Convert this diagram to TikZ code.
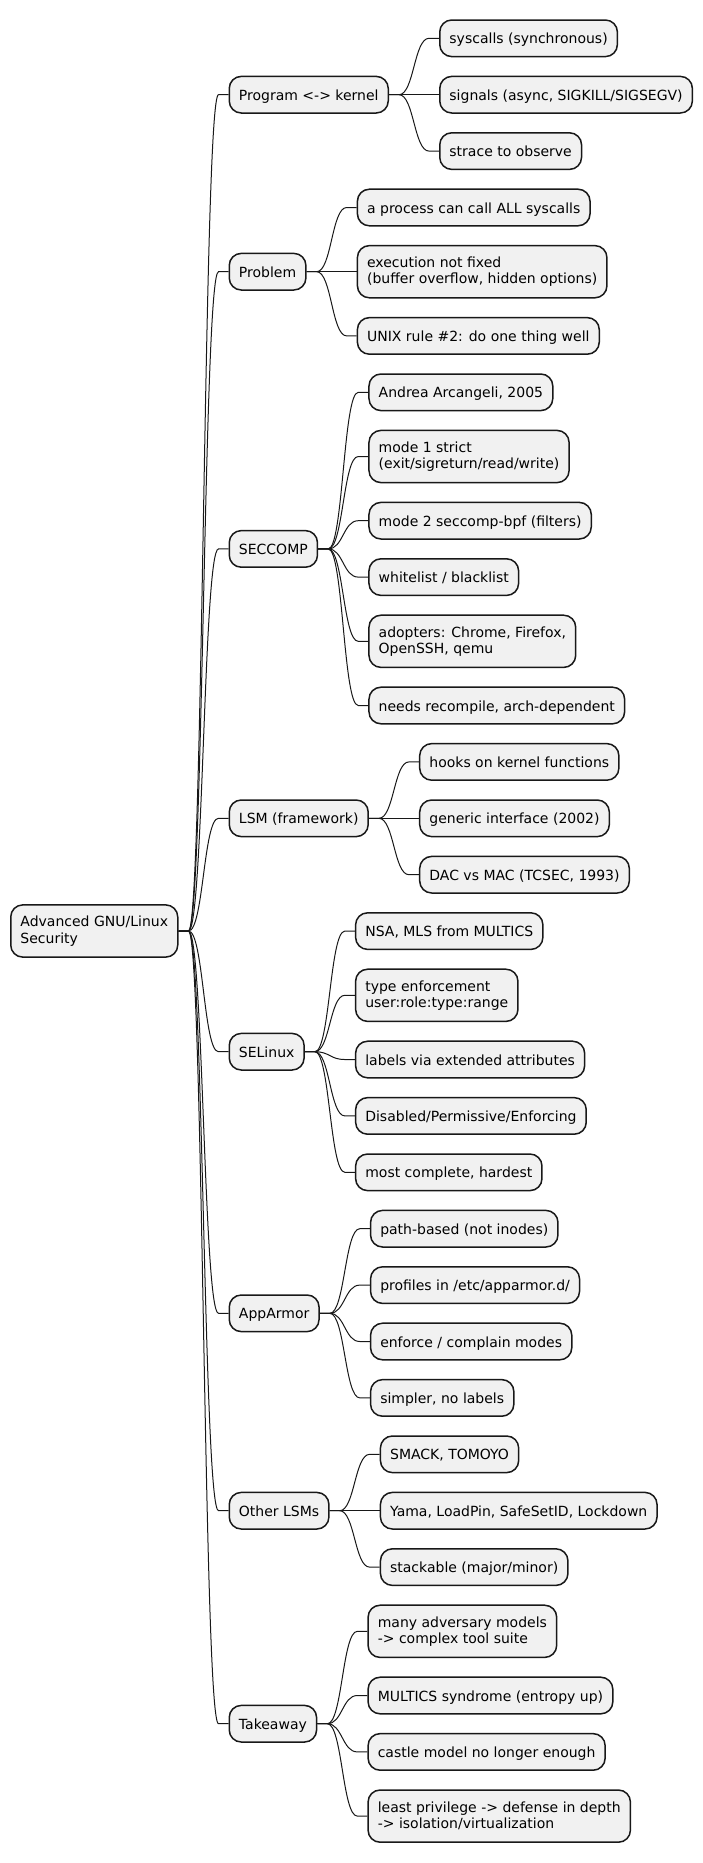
\documentclass[tikz,border=0pt]{standalone}
\usepackage{fontspec}
\setmainfont{DejaVu Sans}
\definecolor{boxfill}{HTML}{F1F1F1}
\definecolor{boxline}{HTML}{181818}
\tikzset{
  mm box/.style={draw=boxline,fill=boxfill,line width=1.5pt,rounded corners=12pt,inner xsep=9.7pt,inner ysep=0pt,anchor=west,align=left},
  mm one/.style={mm box,text height=14pt,text depth=3pt,minimum height=36.6pt},
  mm two/.style={mm box,minimum height=52.2pt},
  mm link/.style={draw=boxline,line width=1pt,out=0,in=180,out distance=15pt,in distance=15pt}
}
\begin{document}
\begin{tikzpicture}[x=1pt,y=-1pt,font=\fontsize{14pt}{16.3pt}\selectfont]
  \useasboundingbox (0,0) rectangle (702,1863);
  \node[mm two] (root) at (10,931) {Advanced GNU/Linux\\Security};
  % first level
  \node[mm one] (prog) at ([xshift=50pt]root.east |- 0,94.7) {Program <-> kernel};
  \node[mm one] (prob) at ([xshift=50pt]root.east |- 0,271.7) {Problem};
  \node[mm one] (secc) at ([xshift=50pt]root.east |- 0,548.9) {SECCOMP};
  \node[mm one] (lsm) at ([xshift=50pt]root.east |- 0,818.3) {LSM (framework)};
  \node[mm one] (selx) at ([xshift=50pt]root.east |- 0,1051.7) {SELinux};
  \node[mm one] (appa) at ([xshift=50pt]root.east |- 0,1313.3) {AppArmor};
  \node[mm one] (olsm) at ([xshift=50pt]root.east |- 0,1510.7) {Other LSMs};
  \node[mm one] (take) at ([xshift=50pt]root.east |- 0,1723.7) {Takeaway};
  % leaves
  \node[mm one] (p1) at ([xshift=50pt]prog.east |- 0,38.3) {syscalls (synchronous)};
  \node[mm one] (p2) at ([xshift=50pt]prog.east |- 0,94.7) {signals (async, SIGKILL/SIGSEGV)};
  \node[mm one] (p3) at ([xshift=50pt]prog.east |- 0,151.1) {strace to observe};
  \node[mm one] (b1) at ([xshift=50pt]prob.east |- 0,207.5) {a process can call ALL syscalls};
  \node[mm two] (b2) at ([xshift=50pt]prob.east |- 0,271.7) {execution not fixed\\(buffer overflow, hidden options)};
  \node[mm one] (b3) at ([xshift=50pt]prob.east |- 0,335.9) {UNIX rule \#2: do one thing well};
  \node[mm one] (s1) at ([xshift=50pt]secc.east |- 0,392.3) {Andrea Arcangeli, 2005};
  \node[mm two] (s2) at ([xshift=50pt]secc.east |- 0,456.5) {mode 1 strict\\(exit/sigreturn/read/write)};
  \node[mm one] (s3) at ([xshift=50pt]secc.east |- 0,520.7) {mode 2 seccomp-bpf (filters)};
  \node[mm one] (s4) at ([xshift=50pt]secc.east |- 0,577.1) {whitelist / blacklist};
  \node[mm two] (s5) at ([xshift=50pt]secc.east |- 0,641.3) {adopters: Chrome, Firefox,\\OpenSSH, qemu};
  \node[mm one] (s6) at ([xshift=50pt]secc.east |- 0,705.5) {needs recompile, arch-dependent};
  \node[mm one] (l1) at ([xshift=50pt]lsm.east |- 0,761.9) {hooks on kernel functions};
  \node[mm one] (l2) at ([xshift=50pt]lsm.east |- 0,818.3) {generic interface (2002)};
  \node[mm one] (l3) at ([xshift=50pt]lsm.east |- 0,874.7) {DAC vs MAC (TCSEC, 1993)};
  \node[mm one] (x1) at ([xshift=50pt]selx.east |- 0,931.1) {NSA, MLS from MULTICS};
  \node[mm two] (x2) at ([xshift=50pt]selx.east |- 0,995.3) {type enforcement\\user:role:type:range};
  \node[mm one] (x3) at ([xshift=50pt]selx.east |- 0,1059.5) {labels via extended attributes};
  \node[mm one] (x4) at ([xshift=50pt]selx.east |- 0,1115.9) {Disabled/Permissive/Enforcing};
  \node[mm one] (x5) at ([xshift=50pt]selx.east |- 0,1172.3) {most complete, hardest};
  \node[mm one] (a1) at ([xshift=50pt]appa.east |- 0,1228.7) {path-based (not inodes)};
  \node[mm one] (a2) at ([xshift=50pt]appa.east |- 0,1285.1) {profiles in /etc/apparmor.d/};
  \node[mm one] (a3) at ([xshift=50pt]appa.east |- 0,1341.5) {enforce / complain modes};
  \node[mm one] (a4) at ([xshift=50pt]appa.east |- 0,1397.9) {simpler, no labels};
  \node[mm one] (o1) at ([xshift=50pt]olsm.east |- 0,1454.3) {SMACK, TOMOYO};
  \node[mm one] (o2) at ([xshift=50pt]olsm.east |- 0,1510.7) {Yama, LoadPin, SafeSetID, Lockdown};
  \node[mm one] (o3) at ([xshift=50pt]olsm.east |- 0,1567.1) {stackable (major/minor)};
  \node[mm two] (t1) at ([xshift=50pt]take.east |- 0,1631.3) {many adversary models\\-> complex tool suite};
  \node[mm one] (t2) at ([xshift=50pt]take.east |- 0,1695.5) {MULTICS syndrome (entropy up)};
  \node[mm one] (t3) at ([xshift=50pt]take.east |- 0,1751.9) {castle model no longer enough};
  \node[mm two] (t4) at ([xshift=50pt]take.east |- 0,1816.1) {least privilege -> defense in depth\\-> isolation/virtualization};
  % connectors
  \foreach \a/\b in {root/prog,root/prob,root/secc,root/lsm,root/selx,root/appa,root/olsm,root/take,
    prog/p1,prog/p2,prog/p3,prob/b1,prob/b2,prob/b3,secc/s1,secc/s2,secc/s3,secc/s4,secc/s5,secc/s6,
    lsm/l1,lsm/l2,lsm/l3,selx/x1,selx/x2,selx/x3,selx/x4,selx/x5,appa/a1,appa/a2,appa/a3,appa/a4,
    olsm/o1,olsm/o2,olsm/o3,take/t1,take/t2,take/t3,take/t4}
    \draw[mm link] (\a.east) -- ++(10pt,0) to ([xshift=-10pt]\b.west) -- (\b.west);
\end{tikzpicture}
\end{document}
